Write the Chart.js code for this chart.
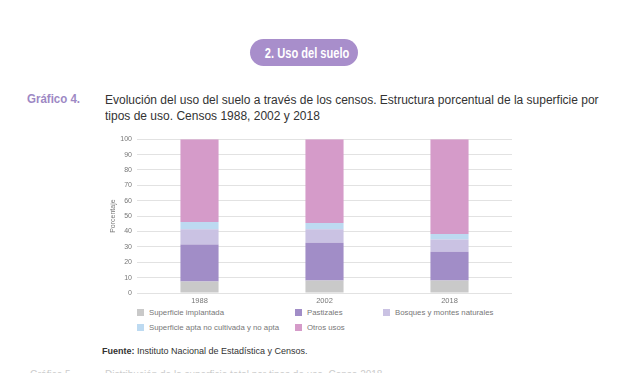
<!DOCTYPE html>
<html>
<head>
<meta charset="utf-8">
<script src="https://cdn.jsdelivr.net/npm/chart.js@4"></script>
<style>
  body { margin: 0; width: 642px; height: 373px; background: #fff; position: relative; overflow: hidden;
         font-family: "Liberation Sans", Arial, sans-serif; }
  .pill { position: absolute; left: 250px; top: 39px; width: 108px; height: 27px; border-radius: 14px;
          background: #a88ecb; color: #fff; font-weight: bold; font-size: 15px; line-height: 27px;
          text-align: center; white-space: nowrap; }
  .pill span { display: inline-block; transform: scaleX(0.74); transform-origin: center; }
  .narrow { display: inline-block; white-space: nowrap; transform-origin: left top; }
  .glabel { position: absolute; left: 27px; top: 92px; color: #9d88c4; font-weight: bold; font-size: 12.5px; }
  .gtitle { position: absolute; left: 105px; top: 92px; color: #333; font-size: 12.5px; line-height: 16px; }
  #wrap { position: absolute; left: 100px; top: 130px; width: 420px; height: 178px; }
  #legend { position: absolute; left: 137px; top: 308px; font-size: 7.8px; color: #777; }
  .li { position: absolute; white-space: nowrap; }
  .li i { display: inline-block; width: 7px; height: 7px; margin-right: 5px; vertical-align: -1px; }
  .fuente { position: absolute; left: 102px; top: 346px; font-size: 9px; color: #333; }
  .next { position: absolute; top: 369px; font-size: 10px; color: #ccc; }
</style>
</head>
<body>
<div class="pill"><span>2. Uso del suelo</span></div>
<div class="glabel"><span class="narrow" style="transform:scaleX(0.92)">Gráfico 4.</span></div>
<div class="gtitle"><span class="narrow" style="transform:scaleX(0.96)">Evolución del uso del suelo a través de los censos. Estructura porcentual de la superficie por<br>tipos de uso. Censos 1988, 2002 y 2018</span></div>
<div id="wrap"><canvas id="myChart" width="420" height="178"></canvas></div>
<div id="legend"></div>
<div class="fuente"><b>Fuente:</b> Instituto Nacional de Estadística y Censos.</div>
<div class="next" style="left:30px">Gráfico 5.</div>
<div class="next" style="left:105px">Distribución de la superficie total por tipos de uso. Censo 2018</div>
<script>
const years = ['1988', '2002', '2018'];
const seriesNames = ['Superficie implantada', 'Pastizales', 'Bosques y montes naturales',
    'Superficie apta no cultivada y no apta', 'Otros usos'];
const implantada = [7.5, 8.1, 8.1];
const pastizales = [24.1, 24.5, 18.7];
const bosques = [9.9, 8.9, 8.0];
const apta = [4.7, 4.0, 3.5];
const otros = [53.8, 54.5, 61.7];
const yTicks = [0, 10, 20, 30, 40, 50, 60, 70, 80, 90, 100];

const colors = ['#c9c9c9', '#a18dc7', '#cac2e3', '#bddaf1', '#d59bc9'];
const values = [implantada, pastizales, bosques, apta, otros];

const datasets = [];
for (let i = 0; i < seriesNames.length; i++) {
    datasets.push({
        label: seriesNames[i],
        data: values[i],
        backgroundColor: colors[i],
        borderWidth: 0,
        barPercentage: 0.5,
        categoryPercentage: 0.61
    });
}

// legend in three columns, like the print layout
const legendPos = [[0, 0], [158, 0], [246, 0], [0, 15], [158, 15]];
const legend = document.getElementById('legend');
seriesNames.forEach((name, i) => {
    const el = document.createElement('div');
    el.className = 'li';
    el.style.left = legendPos[i][0] + 'px';
    el.style.top = legendPos[i][1] + 'px';
    el.innerHTML = '<i style="background:' + colors[i] + '"></i>' + name;
    legend.appendChild(el);
});

const tickFont = {family: 'Liberation Sans', size: 7};
new Chart(document.getElementById('myChart'), {
    type: 'bar',
    data: {labels: years, datasets: datasets},
    options: {
        responsive: false,
        animation: false,
        layout: {padding: {top: 8, right: 8, left: 0, bottom: 0}},
        plugins: {legend: {display: false}, tooltip: {enabled: false}},
        scales: {
            x: {
                stacked: true,
                grid: {display: false, drawTicks: false},
                border: {display: false},
                ticks: {color: '#777', font: {family: 'Liberation Sans', size: 7.5}, padding: 3},
                afterFit: (s) => { s.height = 15; }
            },
            y: {
                stacked: true,
                min: 0,
                max: 100,
                afterBuildTicks: (s) => { s.ticks = yTicks.map(v => ({value: v})); },
                grid: {color: '#e2e2e2', drawTicks: false},
                border: {display: false},
                ticks: {color: '#777', font: tickFont, padding: 5},
                title: {display: true, text: 'Porcentaje', color: '#777', font: tickFont, padding: {top: 9, bottom: 0}},
                afterFit: (s) => { s.width = 37; }
            }
        }
    }
});
</script>
</body>
</html>
